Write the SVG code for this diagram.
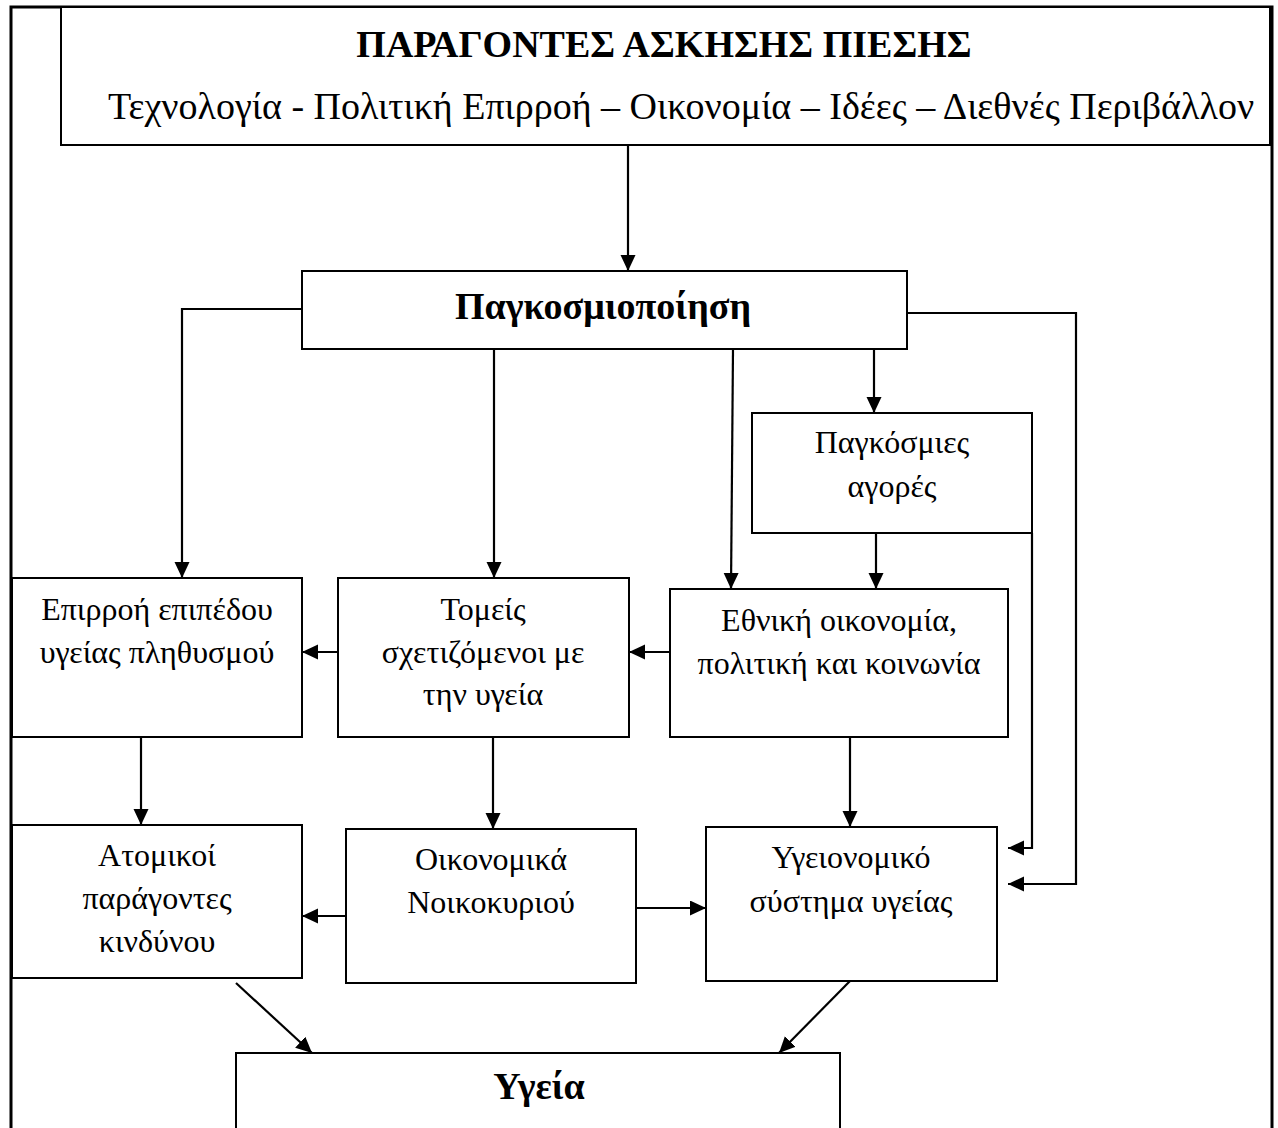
<svg xmlns="http://www.w3.org/2000/svg" width="1278" height="1128" viewBox="0 0 1278 1128">
<style>
.box{fill:#fff;stroke:#000;stroke-width:2}
.t{font-family:"Liberation Serif","Times New Roman",serif;font-size:32px;fill:#000;text-anchor:middle}
.h{font-size:38px}
.b{font-weight:bold}
.c{fill:none;stroke:#000;stroke-width:2.2}
</style>
<defs>
<marker id="ah" markerUnits="userSpaceOnUse" markerWidth="18" markerHeight="16" refX="16" refY="7.5" orient="auto">
<path d="M0,0 L16,7.5 L0,15 Z" fill="#000"/>
</marker>
</defs>
<rect x="0" y="0" width="1278" height="1128" fill="#fff"/>
<rect id="frame" x="11" y="7" width="1261" height="1140" fill="none" stroke="#000" stroke-width="3"/>
<g id="n_top"><rect class="box" x="61" y="7" width="1209" height="138"/>
<text class="t h b" x="664" y="57">ΠΑΡΑΓΟΝΤΕΣ ΑΣΚΗΣΗΣ ΠΙΕΣΗΣ</text>
<text class="t h" x="681" y="119">Τεχνολογία - Πολιτική Επιρροή – Οικονομία – Ιδέες – Διεθνές Περιβάλλον</text></g>
<g id="n_glob"><rect class="box" x="302" y="271" width="605" height="78"/>
<text class="t h b" x="603" y="319">Παγκοσμιοποίηση</text></g>
<g id="n_markets"><rect class="box" x="752" y="413" width="280" height="120"/>
<text class="t" x="892" y="453">Παγκόσμιες</text><text class="t" x="892" y="497">αγορές</text></g>
<g id="n_pop"><rect class="box" x="12" y="578" width="290" height="159"/>
<text class="t" x="157" y="620">Επιρροή επιπέδου</text><text class="t" x="157" y="663">υγείας πληθυσμού</text></g>
<g id="n_sect"><rect class="box" x="338" y="578" width="291" height="159"/>
<text class="t" x="483" y="620">Τομείς</text><text class="t" x="483" y="663">σχετιζόμενοι με</text><text class="t" x="483" y="705">την υγεία</text></g>
<g id="n_nat"><rect class="box" x="670" y="589" width="338" height="148"/>
<text class="t" x="839" y="631">Εθνική οικονομία,</text><text class="t" x="839" y="674">πολιτική και κοινωνία</text></g>
<g id="n_risk"><rect class="box" x="12" y="825" width="290" height="153"/>
<text class="t" x="157" y="866">Ατομικοί</text><text class="t" x="157" y="909">παράγοντες</text><text class="t" x="157" y="952">κινδύνου</text></g>
<g id="n_house"><rect class="box" x="346" y="829" width="290" height="154"/>
<text class="t" x="491" y="870">Οικονομικά</text><text class="t" x="491" y="913">Νοικοκυριού</text></g>
<g id="n_hs"><rect class="box" x="706" y="827" width="291" height="154"/>
<text class="t" x="851" y="868">Υγειονομικό</text><text class="t" x="851" y="912">σύστημα υγείας</text></g>
<g id="n_health"><rect class="box" x="236" y="1053" width="604" height="90"/>
<text class="t h b" x="539" y="1099">Υγεία</text></g>
<g id="connectors" class="c">
<path class="c" d="M628,145 V271" marker-end="url(#ah)"/>
<path class="c" d="M302,309 H182 V578" marker-end="url(#ah)"/>
<path class="c" d="M494,349 V578" marker-end="url(#ah)"/>
<path class="c" d="M733,349 L731,589" marker-end="url(#ah)"/>
<path class="c" d="M874,349 V413" marker-end="url(#ah)"/>
<path class="c" d="M876,533 V589" marker-end="url(#ah)"/>
<path class="c" d="M907,313 H1076 V884 H1008" marker-end="url(#ah)"/>
<path class="c" d="M1032,533 V848 H1008" marker-end="url(#ah)"/>
<path class="c" d="M338,652 H302" marker-end="url(#ah)"/>
<path class="c" d="M670,652 H629" marker-end="url(#ah)"/>
<path class="c" d="M141,737 V825" marker-end="url(#ah)"/>
<path class="c" d="M493,737 V829" marker-end="url(#ah)"/>
<path class="c" d="M850,737 V827" marker-end="url(#ah)"/>
<path class="c" d="M346,916 H302" marker-end="url(#ah)"/>
<path class="c" d="M636,908 H706" marker-end="url(#ah)"/>
<path class="c" d="M236,983 L312,1053" marker-end="url(#ah)"/>
<path class="c" d="M850,981 L779,1053" marker-end="url(#ah)"/>
</g>
</svg>
